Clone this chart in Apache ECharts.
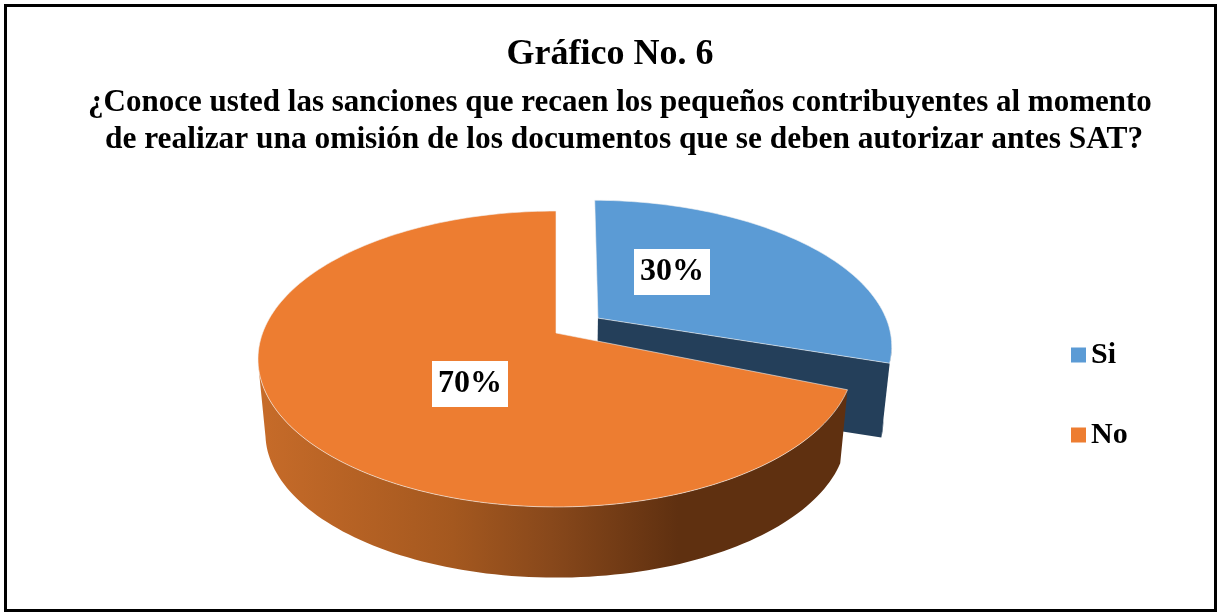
<!DOCTYPE html>
<html>
<head>
<meta charset="utf-8">
<title>Gráfico No. 6</title>
<script src="https://cdn.jsdelivr.net/npm/echarts@6/dist/echarts.min.js"></script>
<style>
  html, body { margin: 0; padding: 0; background: #fff; }
  #chart { width: 1220px; height: 613px; }
</style>
</head>
<body>
<div id="chart"></div>
<script>
const categories = ['Si', 'No'];
const values = [30, 70];
const titleText = 'Gráfico No. 6';
const subtitleLines = [
  '¿Conoce usted las sanciones que recaen los pequeños contribuyentes al momento',
  'de realizar una omisión de los documentos que se deben autorizar antes SAT?'
];

const serifFont = '"Liberation Serif", "Times New Roman", serif';
const topColors = ['#5B9BD5', '#ED7D31'];
const sideColors = ['#243F5A', {
  type: 'linear', x: 262, y: 0, x2: 840, y2: 0, global: true,
  colorStops: [
    { offset: 0, color: '#C66B29' },
    { offset: 0.33, color: '#A4581F' },
    { offset: 0.5, color: '#88481B' },
    { offset: 0.72, color: '#5F3010' },
    { offset: 1, color: '#5F3010' }
  ]
}];
const labelPos = [[672, 272], [470, 384]];

// pie projected in perspective (no 3d pie in plain echarts)
const cx = 556, cy = 333, sx = 293.4, sy = 143.4, persp = 0.1756;
const depth = 75, shrink = 0.975, explode = [0.18, 0];
// small trim of the slice start, the source view is rotated a little
const startTrim = [0.012, 0.065];
const total = values.reduce((a, b) => a + b, 0);

function project(u, v, z) {
  const w = 1 - persp * v;
  const f = 1 - (1 - shrink) * z;
  return [cx + sx * f * u / w, cy + sy * f * v / w + depth * z];
}

function angles(a0, a1) {
  const out = [];
  const n = Math.max(2, Math.ceil((a1 - a0) * 40));
  for (let i = 0; i <= n; i++) {
    out.push(a0 + (a1 - a0) * i / n);
  }
  return out;
}

function sliceItem(idx) {
  const before = values.slice(0, idx).reduce((a, b) => a + b, 0);
  const a0 = before / total * Math.PI * 2;
  const a1 = (before + values[idx]) / total * Math.PI * 2;
  const mid = (a0 + a1) / 2;
  const off = [explode[idx] * Math.sin(mid), -explode[idx] * Math.cos(mid)];
  const at = (a, z) => project(off[0] + Math.sin(a), off[1] - Math.cos(a), z);
  const steps = angles(a0 + startTrim[idx], a1);
  // outer wall, only the part that faces the viewer
  const front = steps.filter(a => Math.cos(a) < -persp);
  const children = [{
    type: 'polygon',
    shape: { points: front.map(a => at(a, 0)).concat(front.slice().reverse().map(a => at(a, 1))) },
    style: { fill: sideColors[idx] }
  }];
  const apexTop = project(off[0], off[1], 0);
  const apexBottom = project(off[0], off[1], 1);
  if (explode[idx] > 0) {
    // cut face of the pulled out slice
    children.push({
      type: 'polygon',
      shape: { points: [apexTop, at(a1, 0), at(a1, 1), apexBottom] },
      style: { fill: sideColors[idx] }
    });
  }
  children.push({
    type: 'polygon',
    shape: { points: [apexTop].concat(steps.map(a => at(a, 0))) },
    style: { fill: topColors[idx], stroke: '#F3F3F3', lineWidth: 0.6 }
  });
  children.push({
    type: 'text',
    x: labelPos[idx][0],
    y: labelPos[idx][1],
    style: {
      text: Math.round(values[idx] / total * 100) + '%',
      font: 'bold 32px ' + serifFont,
      fill: '#000',
      align: 'center',
      verticalAlign: 'middle',
      backgroundColor: '#fff',
      padding: [7, 6, 7, 6]
    }
  });
  return { type: 'group', children: children };
}

const chart = echarts.init(document.getElementById('chart'));
chart.setOption({
  animation: false,
  backgroundColor: '#fff',
  title: [
    {
      text: titleText, left: 'center', top: 32,
      textStyle: { fontFamily: serifFont, fontWeight: 'bold', fontSize: 36, color: '#000' }
    },
    {
      text: subtitleLines[0], left: 83, top: 82,
      textStyle: { fontFamily: serifFont, fontWeight: 'bold', fontSize: 31, color: '#000' }
    },
    {
      text: subtitleLines[1], left: 100, top: 119,
      textStyle: { fontFamily: serifFont, fontWeight: 'bold', fontSize: 31.4, color: '#000' }
    }
  ],
  legend: {
    orient: 'vertical', left: 1066, top: 333,
    icon: 'rect', itemWidth: 15, itemHeight: 15, itemGap: 46,
    data: categories,
    textStyle: { fontFamily: serifFont, fontWeight: 'bold', fontSize: 30, lineHeight: 34, color: '#000' }
  },
  graphic: [{
    type: 'rect', silent: true,
    shape: { x: 5.5, y: 5.5, width: 1210, height: 605 },
    style: { fill: 'none', stroke: '#000', lineWidth: 3 }
  }],
  series: categories.map((name, i) => ({
    type: 'custom',
    name: name,
    coordinateSystem: 'none',
    itemStyle: { color: topColors[i] },
    data: [values[i]],
    renderItem: () => sliceItem(i)
  }))
});
</script>
</body>
</html>
